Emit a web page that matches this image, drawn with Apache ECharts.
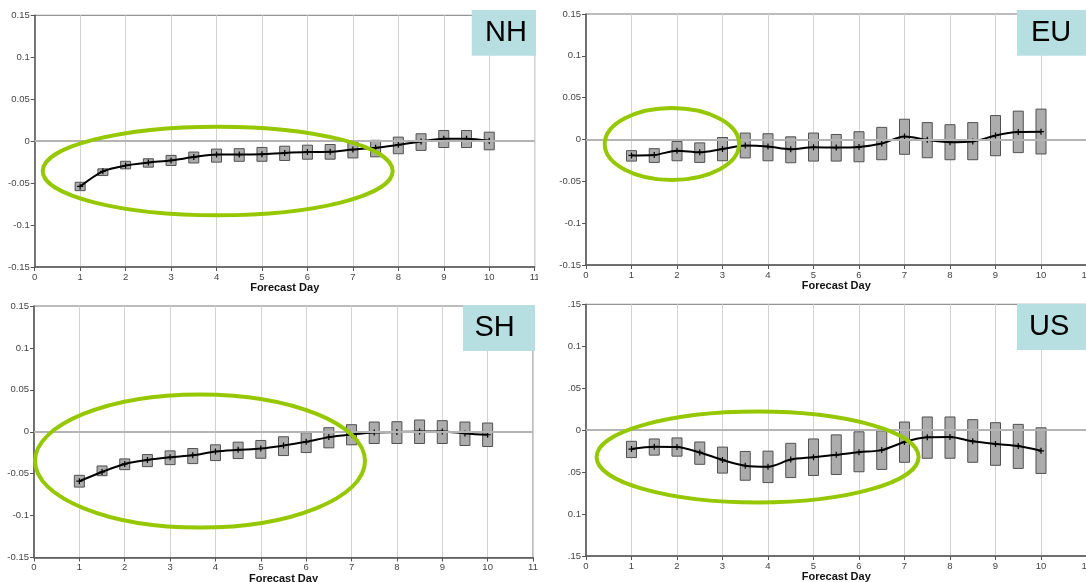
<!DOCTYPE html>
<html>
<head>
<meta charset="utf-8">
<script src="https://cdn.jsdelivr.net/npm/echarts@6/dist/echarts.min.js"></script>
<style>
html,body{margin:0;padding:0;background:#fff;}
#c{width:1086px;height:582px;}
</style>
</head>
<body>
<div id="c"></div>
<script>
// ---- data ----
const days = [1, 1.5, 2, 2.5, 3, 3.5, 4, 4.5, 5, 5.5, 6, 6.5, 7, 7.5, 8, 8.5, 9, 9.5, 10];
const xTicks = [0, 1, 2, 3, 4, 5, 6, 7, 8, 9, 10, 11];
const yTicks = [-0.15, -0.1, -0.05, 0, 0.05, 0.1, 0.15];
const usYLabels = ['.15', '0.1', '.05', '0', '.05', '0.1', '.15'];
const panelNames = ['NH', 'EU', 'SH', 'US'];
const xAxisTitle = 'Forecast Day';

const nhMid  = [-0.054, -0.036, -0.029, -0.0255, -0.023, -0.019, -0.016, -0.016, -0.0155, -0.014, -0.013, -0.0127, -0.010, -0.008, -0.0044, -0.0004, 0.003, 0.003, 0.0004];
const nhHigh = [-0.049, -0.033, -0.024, -0.021, -0.017, -0.013, -0.0095, -0.009, -0.0075, -0.006, -0.0048, -0.004, -0.001, 0.001, 0.0048, 0.0088, 0.0127, 0.0127, 0.0107];
const nhLow  = [-0.059, -0.041, -0.033, -0.031, -0.029, -0.026, -0.025, -0.024, -0.024, -0.023, -0.0215, -0.0215, -0.020, -0.0187, -0.015, -0.011, -0.0076, -0.0076, -0.0103];

const euMid  = [-0.019, -0.0185, -0.0133, -0.0153, -0.0113, -0.0073, -0.0085, -0.0117, -0.0093, -0.0097, -0.0089, -0.0048, 0.0036, -0.0004, -0.0032, -0.0024, 0.0048, 0.0089, 0.0093];
const euHigh = [-0.0133, -0.011, -0.0024, -0.004, 0.0024, 0.0077, 0.0069, 0.0032, 0.0077, 0.006, 0.0093, 0.0145, 0.0242, 0.0202, 0.0177, 0.0202, 0.0286, 0.0339, 0.0363];
const euLow  = [-0.0258, -0.0274, -0.0254, -0.0274, -0.0254, -0.022, -0.0254, -0.0278, -0.0258, -0.0258, -0.0266, -0.0242, -0.0177, -0.0218, -0.0242, -0.0242, -0.0194, -0.0157, -0.0173];

const shMid  = [-0.059, -0.048, -0.0384, -0.0336, -0.0304, -0.028, -0.0236, -0.0216, -0.02, -0.0164, -0.012, -0.0064, -0.0032, -0.0008, -0.0004, 0.0004, 0.0004, -0.002, -0.0036];
const shHigh = [-0.052, -0.0408, -0.0324, -0.0272, -0.0228, -0.02, -0.0156, -0.0124, -0.0104, -0.006, -0.0012, 0.0048, 0.0084, 0.0116, 0.012, 0.014, 0.0132, 0.0116, 0.0104];
const shLow  = [-0.066, -0.0524, -0.0452, -0.0416, -0.0392, -0.038, -0.0344, -0.032, -0.0316, -0.0284, -0.0248, -0.0192, -0.0156, -0.014, -0.014, -0.014, -0.014, -0.0164, -0.0176];

const usMid  = [-0.0226, -0.0198, -0.0202, -0.0266, -0.0355, -0.0423, -0.0435, -0.0351, -0.0323, -0.0294, -0.0262, -0.0238, -0.0141, -0.0085, -0.0081, -0.0133, -0.0165, -0.019, -0.0246];
const usHigh = [-0.0133, -0.0105, -0.0093, -0.0141, -0.0202, -0.0254, -0.025, -0.0157, -0.0105, -0.0056, -0.002, -0.0008, 0.0097, 0.0157, 0.0157, 0.0125, 0.0089, 0.0069, 0.0028];
const usLow  = [-0.0327, -0.0298, -0.031, -0.0407, -0.0512, -0.0597, -0.0625, -0.0565, -0.054, -0.0528, -0.0496, -0.0468, -0.0383, -0.0335, -0.0335, -0.0383, -0.0419, -0.0456, -0.0516];

const panels = [
  { mid: nhMid, lo: nhLow, hi: nhHigh },
  { mid: euMid, lo: euLow, hi: euHigh },
  { mid: shMid, lo: shLow, hi: shHigh },
  { mid: usMid, lo: usLow, hi: usHigh }
];

// ---- layout ----
const grids = [
  { left: 34.7, top: 15.3, width: 500, height: 251.7 },
  { left: 586, top: 14, width: 500.5, height: 251 },
  { left: 34, top: 306, width: 499, height: 251.5 },
  { left: 586, top: 304.3, width: 500.5, height: 251.7 }
];
const labelBoxes = [
  { x: 471.7, y: 10, w: 64.3, h: 45.7, tx: 485 },
  { x: 1017, y: 10, w: 69, h: 45.7, tx: 1031 },
  { x: 463, y: 305, w: 72, h: 46, tx: 474.5 },
  { x: 1017, y: 304, w: 69, h: 46, tx: 1029 }
];
const ellipses = [
  { cx: 217.7, cy: 171, rx: 175, ry: 44.3 },
  { cx: 671.9, cy: 144, rx: 67.2, ry: 36 },
  { cx: 200, cy: 461, rx: 165, ry: 66.6 },
  { cx: 757.6, cy: 457, rx: 161, ry: 45.5 }
];

const FONT = '"Liberation Sans", Arial, sans-serif';
const plusPath = 'path://M4,0h2v4h4v2h-4v4h-2v-4h-4v-2h4z';

function fmtY(v) { return String(+(+v).toFixed(2)); }

const option = {
  animation: false,
  backgroundColor: '#ffffff',
  grid: grids.map(g => Object.assign({ show: true, borderColor: '#7a7a7a', borderWidth: 1,
    backgroundColor: 'transparent', containLabel: false, outerBoundsMode: 'none' }, g)),
  xAxis: [],
  yAxis: [],
  series: [],
  graphic: []
};

panels.forEach((p, i) => {
  option.xAxis.push({
    gridIndex: i, type: 'value', min: xTicks[0], max: xTicks[xTicks.length - 1], interval: 1,
    name: xAxisTitle, nameLocation: 'middle', nameGap: 12,
    nameTextStyle: { fontFamily: FONT, fontWeight: 'bold', fontSize: 11, color: '#111' },
    axisLine: { show: true, onZero: false, lineStyle: { color: '#555', width: 1.5 } },
    axisTick: { show: true, length: 4, lineStyle: { color: '#555' } },
    axisLabel: { fontFamily: FONT, fontSize: 9.5, color: '#444', margin: 5,
      formatter: v => String(Math.round(v)) },
    splitLine: { show: true, lineStyle: { color: '#d2d2d2', width: 1 } }
  });
  option.yAxis.push({
    gridIndex: i, type: 'value', min: yTicks[0], max: yTicks[yTicks.length - 1], interval: 0.05,
    axisLine: { show: true, lineStyle: { color: '#555', width: 1.5 } },
    axisTick: { show: true, length: 4, lineStyle: { color: '#555' } },
    axisLabel: { fontFamily: FONT, fontSize: 9.5, color: '#444', margin: 5,
      formatter: i === 3
        ? (v => usYLabels[Math.round((v - yTicks[0]) / 0.05)])
        : fmtY },
    splitLine: { show: false }
  });
  // zero line
  option.series.push({
    type: 'line', xAxisIndex: i, yAxisIndex: i, data: [], silent: true, z: 1,
    markLine: { silent: true, symbol: 'none', label: { show: false },
      lineStyle: { color: '#b4b4b4', width: 2, type: 'solid' },
      data: [{ yAxis: 0 }] }
  });
  // boxes
  option.series.push({
    type: 'custom', xAxisIndex: i, yAxisIndex: i, z: 2,
    data: days.map((d, k) => [d, p.lo[k], p.hi[k]]),
    renderItem: (params, api) => {
      const x = api.value(0);
      const top = api.coord([x, api.value(2)]);
      const bot = api.coord([x, api.value(1)]);
      const w = api.size([0.22, 0])[0];
      return {
        type: 'rect',
        shape: { x: top[0] - w / 2, y: top[1], width: w, height: bot[1] - top[1] },
        style: { fill: '#acacac', stroke: '#505050', lineWidth: 1 }
      };
    }
  });
  // mean line
  option.series.push({
    type: 'line', xAxisIndex: i, yAxisIndex: i, z: 3,
    data: days.map((d, k) => [d, p.mid[k]]),
    smooth: 0.3,
    symbol: plusPath, symbolSize: 6,
    itemStyle: { color: '#000' },
    lineStyle: { color: '#000', width: 2 }
  });
});

// crop of the NH panel's right edge
option.graphic.push({ type: 'rect', shape: { x: 538, y: 0, width: 5, height: 291 }, style: { fill: '#fff' }, z: 50 });

labelBoxes.forEach((b, i) => {
  option.graphic.push({ type: 'rect', shape: { x: b.x, y: b.y, width: b.w, height: b.h }, style: { fill: '#b7dfe1' }, z: 60 });
  option.graphic.push({ type: 'text', x: b.tx, y: b.y + b.h / 2, z: 61,
    style: { text: panelNames[i], fontFamily: FONT, fontSize: 29, fill: '#000', verticalAlign: 'middle', align: 'left' } });
});
ellipses.forEach(e => {
  option.graphic.push({ type: 'ellipse', shape: e, z: 70,
    style: { fill: 'none', stroke: '#95c800', lineWidth: 4 } });
});

const chart = echarts.init(document.getElementById('c'), null, { renderer: 'canvas' });
chart.setOption(option);
</script>
</body>
</html>
